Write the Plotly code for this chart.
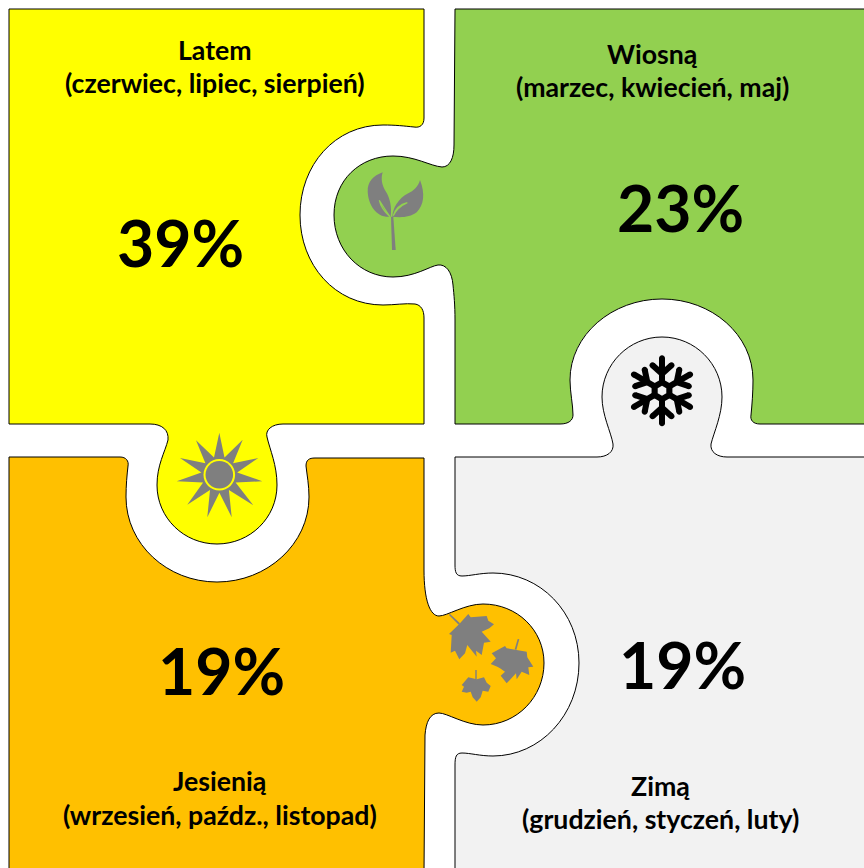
import math
import plotly.graph_objects as go

seasons = ["Latem", "Wiosną", "Jesienią", "Zimą"]
months = ["(czerwiec, lipiec, sierpień)", "(marzec, kwiecień, maj)",
          "(wrzesień, paźdz., listopad)", "(grudzień, styczeń, luty)"]
shares = [39, 23, 19, 19]

W, H = 864, 868
YELLOW, GREEN, ORANGE, LIGHT, ICON = "#FFFF00", "#92D050", "#FFC000", "#F2F2F2", "#7F7F7F"
FONT = "Lato, Carlito, 'Open Sans', sans-serif"

# placement: title x/y, months y, share x/y
place = [(215, 50, 83, 180.5, 242), (652.5, 54, 86.5, 680, 207),
         (219.5, 781, 815, 221, 670), (660, 786, 819, 682, 664)]

yellow_path = ("M9,9 L424,9 L424,118 C424,125 420,128 414,127 C404,126 396,125 383,125 "
               "C335,125 300,165 300,215 C300,265 335,305 383,305 C395,305 405,303 415,304 "
               "C421,305 424,310 424,318 L424,424 L283,424 C272,424 265,430 267,437 "
               "C270,450 277,465 277,485 C277,518 250,544 217,544 C184,544 157,518 157,485 "
               "C157,465 165,452 168,440 C169,430 162,424 150,424 L9,424 Z")
green_path = ("M455,9 L870,9 L870,424 L760,424 C753,424 750,420 751,415 C752,405 753,392 753,380 "
              "C753,335 712,299 662,299 C612,299 570,335 570,380 C570,392 573,405 573,415 "
              "C573,420 569,424 560,424 L455,424 L455,320 C455,305 454,295 453,285 "
              "C452,272 446,264 438,265 C430,266 415,277 393,277 C360,277 334,250 334,215 "
              "C334,180 360,156 393,156 C415,156 430,166 442,167 C450,167 454,158 454,145 L455,9 Z")
light_path = ("M455,457 L597,457 C607,457 614,452 613,444 C611,432 602,415 602,397 "
              "C602,364 629,337 662,337 C695,337 722,364 722,397 C722,415 714,432 711,444 "
              "C710,452 717,457 727,457 L870,457 L870,874 L455,874 L455,765 C455,757 456,753 462,753 "
              "C470,753 480,756 493,756 C540,756 579,715 579,663 C579,612 540,573 493,573 "
              "C480,573 470,576 462,576 C456,576 455,572 455,565 Z")
orange_path = ("M9,457 L120,457 C126,457 129,461 128,466 C127,475 126,485 126,497 "
               "C126,544 167,582 217,582 C267,582 309,544 309,497 C309,485 307,475 306,466 "
               "C306,460 309,458 315,458 L424,458 L424,570 C424,600 430,616 439,616 "
               "C447,616 465,604 483,604 C517,604 544,630 544,663 C544,697 517,725 483,725 "
               "C465,725 447,713 439,713 C430,713 426,722 425,735 L424,874 L9,874 Z")

shapes = []


def add_path(d, fill=None, line=None, lw=1.0):
    shapes.append(dict(type="path", path=d, xref="x", yref="y", layer="above",
                       fillcolor=fill or "rgba(0,0,0,0)",
                       line=dict(color=line or "rgba(0,0,0,0)", width=lw if line else 0)))


def poly(pts, ox=0, oy=0, s=1.0):
    return "M" + " L".join(f"{ox + x * s:.1f},{oy + y * s:.1f}" for x, y in pts) + " Z"


def circle(cx, cy, r):
    k = 0.5523 * r
    return (f"M{cx - r},{cy} C{cx - r},{cy - k} {cx - k},{cy - r} {cx},{cy - r} "
            f"C{cx + k},{cy - r} {cx + r},{cy - k} {cx + r},{cy} "
            f"C{cx + r},{cy + k} {cx + k},{cy + r} {cx},{cy + r} "
            f"C{cx - k},{cy + r} {cx - r},{cy + k} {cx - r},{cy} Z")


for d, c in [(yellow_path, YELLOW), (green_path, GREEN), (orange_path, ORANGE), (light_path, LIGHT)]:
    add_path(d, c, "#000000", 1.0)

# --- sprout (reference crop coordinates, scale 1/3)
ox, oy, s = 360, 165, 1 / 3


def crop_path(cmds):
    out = []
    for c, pts in cmds:
        out.append(c + " ".join(f"{ox + x * s:.1f},{oy + y * s:.1f}" for x, y in pts))
    return " ".join(out) + " Z"


add_path(crop_path([("M", [(68, 22)]), ("C", [(40, 32), (22, 50), (23, 80)]),
                    ("C", [(25, 120), (50, 160), (92, 155)]),
                    ("C", [(96, 125), (90, 100), (78, 80)]),
                    ("C", [(65, 60), (62, 40), (68, 22)])]), ICON)
add_path(crop_path([("M", [(180, 45)]), ("C", [(196, 85), (192, 120), (170, 142)]),
                    ("C", [(150, 158), (120, 158), (97, 155)]),
                    ("C", [(98, 130), (115, 100), (145, 85)]),
                    ("C", [(160, 78), (175, 65), (180, 45)])]), ICON)
add_path(crop_path([("M", [(58, 106)]), ("C", [(62, 125), (75, 142), (90, 155)]),
                    ("C", [(78, 138), (68, 122), (58, 106)])]), None, GREEN, 1.2)
add_path(crop_path([("M", [(142, 113)]), ("C", [(122, 118), (106, 132), (100, 152)]),
                    ("C", [(108, 135), (122, 122), (142, 113)])]), None, GREEN, 1.2)
add_path(poly([(93, 155), (100, 155), (107, 255), (96, 255)], ox, oy, s), ICON)

# --- snowflake
cx, cy = 662, 390.7
add_path(poly([(12 * math.sin(math.radians(60 * i)), -12 * math.cos(math.radians(60 * i)))
               for i in range(6)], cx, cy), "#000000")


def rot(x, y, a):
    ca, sa = math.cos(a), math.sin(a)
    return cx + x * ca - y * sa, cy + x * sa + y * ca


for i in range(6):
    a = math.radians(60 * i)
    segs = [((0, 0), (0, -32.5)), ((0, -17), (-9.5, -25.5)), ((0, -17), (9.5, -25.5))]
    for p, q in segs:
        x0, y0 = rot(*p, a)
        x1, y1 = rot(*q, a)
        add_path(f"M{x0:.1f},{y0:.1f} L{x1:.1f},{y1:.1f}", None, "#000000", 6)
        add_path(circle(round(x1, 1), round(y1, 1), 3), "#000000")
add_path(poly([(5 * math.sin(math.radians(60 * i)), -5 * math.cos(math.radians(60 * i)))
               for i in range(6)], cx, cy), LIGHT)

# --- sun
sx, sy = 219.3, 474.7
tips = [(148, 14), (218, 35), (265, 90), (277, 160), (250, 232), (185, 268),
        (112, 268), (52, 230), (20, 160), (30, 90), (78, 37)]
tips = [(170 + x / 3, 428 + y / 3) for x, y in tips]
angs = [math.atan2(y - sy, x - sx) for x, y in tips]
star = []
for i, (t, a) in enumerate(zip(tips, angs)):
    star.append(t)
    b = angs[(i + 1) % len(angs)]
    d = (b - a) % (2 * math.pi)
    m = a + d / 2
    star.append((sx + 18 * math.cos(m), sy + 18 * math.sin(m)))
add_path(poly(star), ICON)
add_path(circle(sx, sy, 15.8), YELLOW)
add_path(circle(sx, sy, 13.8), ICON)

# --- maple leaves (crop coordinates, scale 1/3)
ox, oy = 410, 560
leaf_a = [(148, 192), (175, 162), (182, 172), (230, 168), (235, 182), (252, 193), (238, 205),
          (215, 215), (242, 245), (222, 248), (215, 285), (198, 272), (200, 290), (172, 255),
          (165, 280), (148, 298), (135, 272), (122, 278), (125, 225), (117, 222)]
leaf_b = [(285, 258), (290, 265), (350, 275), (352, 292), (370, 320), (355, 322), (358, 345),
          (335, 335), (320, 358), (318, 340), (290, 370), (272, 347), (285, 335), (270, 325),
          (262, 320), (242, 312), (258, 295), (245, 280)]
leaf_c = [(175, 352), (200, 358), (222, 352), (230, 368), (242, 378), (235, 395), (218, 392),
          (212, 412), (200, 425), (188, 412), (182, 395), (170, 398), (155, 395), (162, 380),
          (155, 375)]
for lf in (leaf_a, leaf_b, leaf_c):
    add_path(poly(lf, ox, oy, s), ICON)
add_path(poly([(117, 165), (120, 162), (150, 190), (146, 194)], ox, oy, s), ICON)
add_path(poly([(323, 237), (328, 238), (319, 270), (314, 268)], ox, oy, s), ICON)
add_path(poly([(196, 330), (200, 330), (200, 358), (196, 358)], ox, oy, s), ICON)

fig = go.Figure()
annotations = []
for name, mon, val, (tx, ty, my, px, py) in zip(seasons, months, shares, place):
    for txt, x, y, size in [(f"<b>{name}</b>", tx, ty, 26.7), (f"<b>{mon}</b>", tx, my, 26.7),
                            (f"<b>{val}%</b>", px, py, 64.3)]:
        annotations.append(dict(text=txt, x=x, y=y, xref="x", yref="y", showarrow=False,
                                xanchor="center", yanchor="middle",
                                font=dict(family=FONT, size=size, color="#000000")))

fig.add_trace(go.Scatter(x=[0, W], y=[0, H], mode="markers", marker=dict(opacity=0),
                         hoverinfo="skip", showlegend=False))
fig.update_layout(width=W, height=H, margin=dict(l=0, r=0, t=0, b=0),
                  paper_bgcolor="white", plot_bgcolor="white", showlegend=False,
                  shapes=shapes, annotations=annotations,
                  xaxis=dict(range=[0, W], visible=False, fixedrange=True),
                  yaxis=dict(range=[H, 0], visible=False, fixedrange=True))
fig.write_html("out.html", config={"displayModeBar": False},
               post_script="document.body.style.margin='0';document.body.style.overflow='hidden';")
